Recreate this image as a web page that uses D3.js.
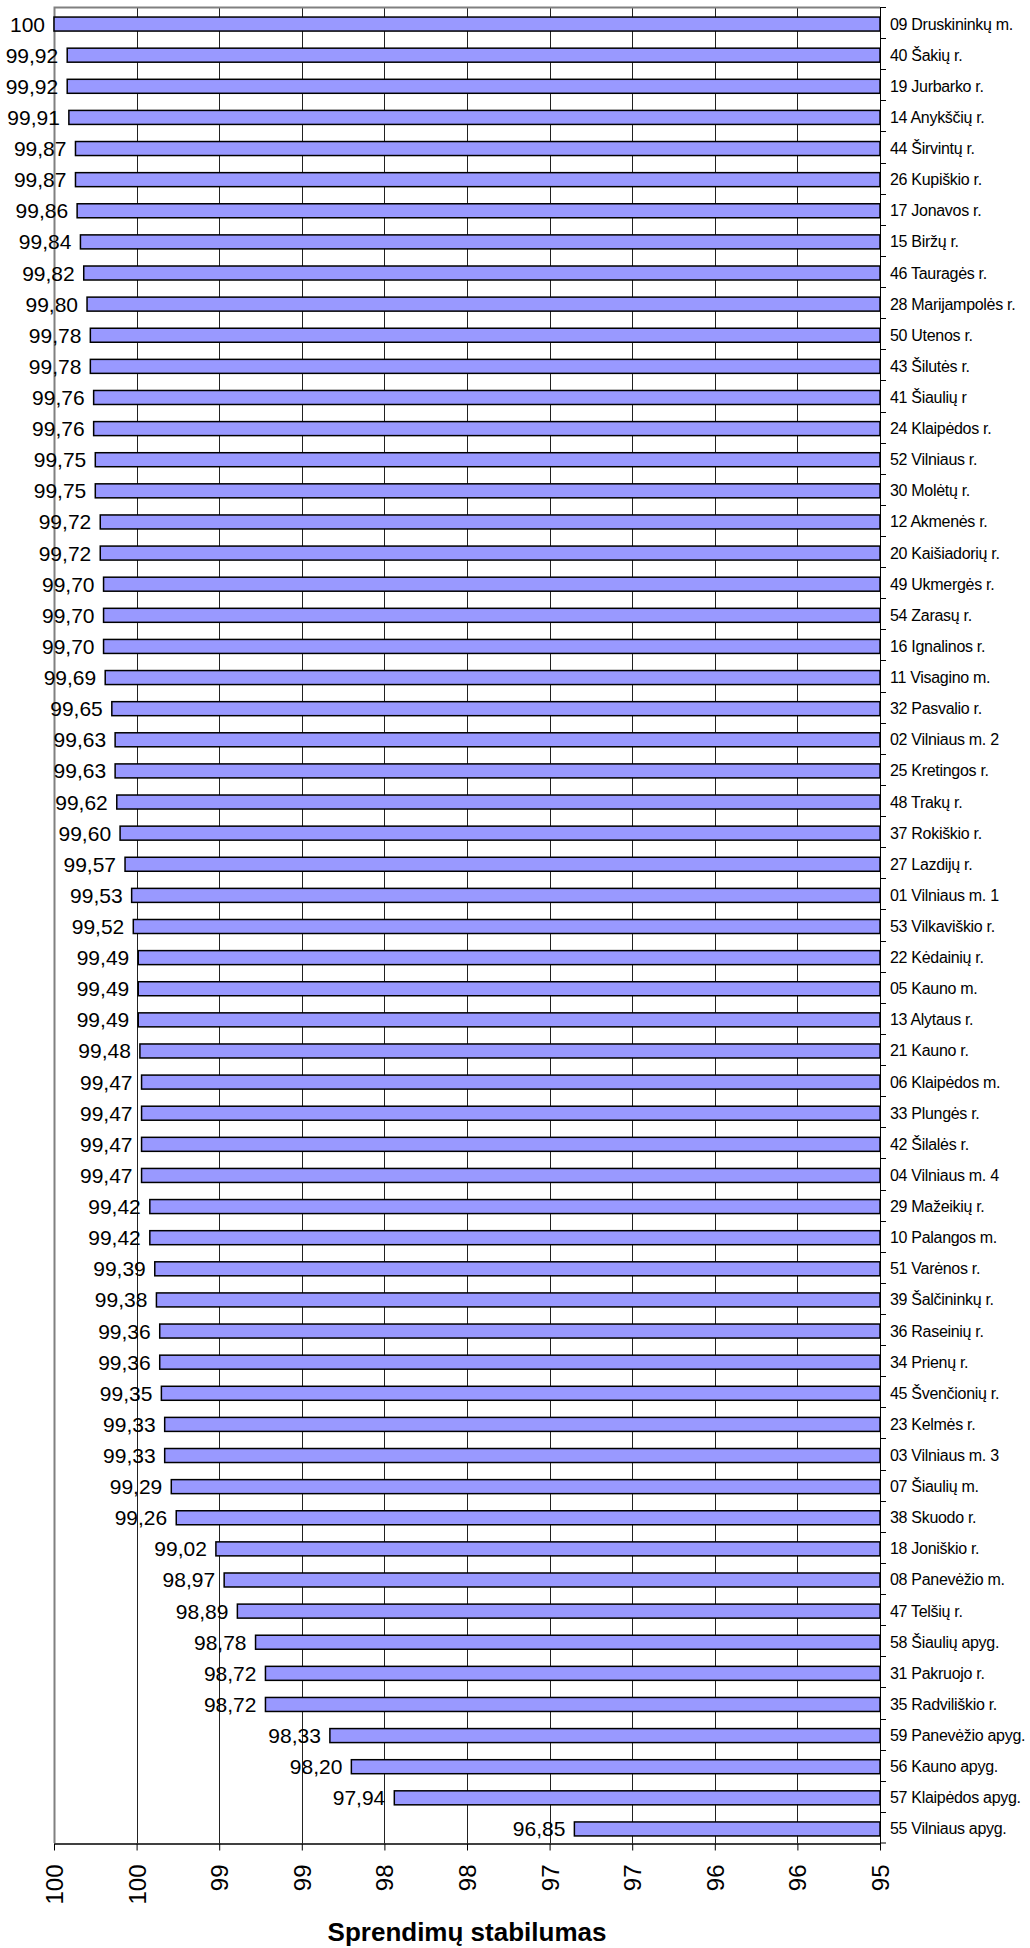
<!DOCTYPE html>
<html>
<head>
<meta charset="utf-8">
<script src="https://cdn.jsdelivr.net/npm/d3@7"></script>
<style>
  body { margin: 0; background: #fff; }
  text { font-family: "Liberation Sans", Arial, sans-serif; }
</style>
</head>
<body>
<div id="chart"></div>
<script>
// Sprendimų stabilumas - horizontal bars, reversed axis

var categories = [
  "09 Druskininkų m.", "40 Šakių r.", "19 Jurbarko r.", "14 Anykščių r.", "44 Širvintų r.",
  "26 Kupiškio r.", "17 Jonavos r.", "15 Biržų r.", "46 Tauragės r.", "28 Marijampolės r.",
  "50 Utenos r.", "43 Šilutės r.", "41 Šiaulių r", "24 Klaipėdos r.", "52 Vilniaus r.",
  "30 Molėtų r.", "12 Akmenės r.", "20 Kaišiadorių r.", "49 Ukmergės r.", "54 Zarasų r.",
  "16 Ignalinos r.", "11 Visagino m.", "32 Pasvalio r.", "02 Vilniaus m. 2", "25 Kretingos r.",
  "48 Trakų r.", "37 Rokiškio r.", "27 Lazdijų r.", "01 Vilniaus m. 1", "53 Vilkaviškio r.",
  "22 Kėdainių r.", "05 Kauno m.", "13 Alytaus r.", "21 Kauno r.", "06 Klaipėdos m.",
  "33 Plungės r.", "42 Šilalės r.", "04 Vilniaus m. 4", "29 Mažeikių r.", "10 Palangos m.",
  "51 Varėnos r.", "39 Šalčininkų r.", "36 Raseinių r.", "34 Prienų r.", "45 Švenčionių r.",
  "23 Kelmės r.", "03 Vilniaus m. 3", "07 Šiaulių m.", "38 Skuodo r.", "18 Joniškio r.",
  "08 Panevėžio m.", "47 Telšių r.", "58 Šiaulių apyg.", "31 Pakruojo r.", "35 Radviliškio r.",
  "59 Panevėžio apyg.", "56 Kauno apyg.", "57 Klaipėdos apyg.", "55 Vilniaus apyg."
]

var values = [
  100, 99.92, 99.92, 99.91, 99.87,
  99.87, 99.86, 99.84, 99.82, 99.80,
  99.78, 99.78, 99.76, 99.76, 99.75,
  99.75, 99.72, 99.72, 99.70, 99.70,
  99.70, 99.69, 99.65, 99.63, 99.63,
  99.62, 99.60, 99.57, 99.53, 99.52,
  99.49, 99.49, 99.49, 99.48, 99.47,
  99.47, 99.47, 99.47, 99.42, 99.42,
  99.39, 99.38, 99.36, 99.36, 99.35,
  99.33, 99.33, 99.29, 99.26, 99.02,
  98.97, 98.89, 98.78, 98.72, 98.72,
  98.33, 98.20, 97.94, 96.85
]

var tickValues = [100, 99.5, 99, 98.5, 98, 97.5, 97, 96.5, 96, 95.5, 95]
var tickLabels = ["100", "100", "99", "99", "98", "98", "97", "97", "96", "96", "95"]

var axisTitle = "Sprendimų stabilumas"

var data = categories.map(function(c, i) { return { name: c, value: values[i] } })

var width = 1030
var height = 1948
var margin = { top: 7, left: 54, right: 150, bottom: 105 }

var svg = d3.select("#chart")
  .append("svg")
    .attr("width", width)
    .attr("height", height)

var x = d3.scaleLinear()
  .domain([100, 95])
  .range([margin.left, width - margin.right])

var y = d3.scaleBand()
  .domain(categories)
  .range([margin.top, height - margin.bottom])

var barH = 14
var x0 = x(95)
var yBottom = height - margin.bottom

// vertical gridlines
svg.append("g")
  .selectAll("line")
  .data(tickValues.filter(function(t) { return t !== 100 && t !== 95 }))
  .enter()
  .append("line")
    .attr("x1", function(d) { return Math.round(x(d)) + 0.5 })
    .attr("x2", function(d) { return Math.round(x(d)) + 0.5 })
    .attr("y1", margin.top)
    .attr("y2", yBottom)
    .attr("stroke", "#222")
    .attr("stroke-width", 1)

// plot border (left + top, grey)
svg.append("path")
  .attr("d", "M" + (x(100) + 0.5) + "," + yBottom + "V" + (margin.top + 0.5) + "H" + x0)
  .attr("fill", "none")
  .attr("stroke", "#808080")
  .attr("stroke-width", 2)

// bars
svg.append("g")
  .selectAll("rect")
  .data(data)
  .enter()
  .append("rect")
    .attr("x", function(d) { return x(d.value) })
    .attr("y", function(d) { return y(d.name) + (y.bandwidth() - barH) / 2 + 1.5 })
    .attr("width", function(d) { return x0 - x(d.value) })
    .attr("height", barH)
    .attr("fill", "#9999ff")
    .attr("stroke", "#000")
    .attr("stroke-width", 1.5)

// value labels
svg.append("g")
  .selectAll("text")
  .data(data)
  .enter()
  .append("text")
    .attr("x", function(d) { return x(d.value) - 9 })
    .attr("y", function(d) { return y(d.name) + y.bandwidth() / 2 + 1.5 })
    .attr("text-anchor", "end")
    .attr("dominant-baseline", "central")
    .style("font-size", "21px")
    .attr("fill", "#000")
    .text(function(d) { return d.value === 100 ? "100" : d.value.toFixed(2).replace(".", ",") })

// right category axis
var ry = svg.append("g")
ry.append("line")
  .attr("x1", x0 + 0.5).attr("x2", x0 + 0.5)
  .attr("y1", margin.top).attr("y2", yBottom + 7)
  .attr("stroke", "#000")
ry.selectAll("line.tick")
  .data(categories.concat(["__end"]))
  .enter()
  .append("line")
    .attr("class", "tick")
    .attr("x1", x0).attr("x2", x0 + 6)
    .attr("y1", function(d) { return d === "__end" ? yBottom : Math.round(y(d)) + 0.5 })
    .attr("y2", function(d) { return d === "__end" ? yBottom : Math.round(y(d)) + 0.5 })
    .attr("stroke", "#000")
ry.selectAll("text")
  .data(categories)
  .enter()
  .append("text")
    .attr("x", x0 + 10)
    .attr("y", function(d) { return y(d) + y.bandwidth() / 2 + 1.5 })
    .attr("dominant-baseline", "central")
    .style("font-size", "16px")
    .style("letter-spacing", "-0.3px")
    .attr("fill", "#000")
    .text(function(d) { return d })

// bottom value axis
var xAxis = svg.append("g")
  .attr("transform", "translate(0," + (yBottom + 0.5) + ")")
  .call(d3.axisBottom(x)
    .tickValues(tickValues)
    .tickFormat(function(d, i) { return tickLabels[i] })
    .tickSize(7)
    .tickSizeOuter(0))
xAxis.select(".domain").attr("stroke", "#000").attr("stroke-width", 1.5)
xAxis.selectAll(".tick line").attr("stroke", "#000")
xAxis.selectAll(".tick text")
  .attr("transform", "rotate(-90)")
  .attr("x", -21)
  .attr("y", 0)
  .attr("dy", "0.35em")
  .attr("text-anchor", "end")
  .style("font-size", "24px")
  .style("font-family", "'Liberation Sans', Arial, sans-serif")
  .attr("fill", "#000")

// axis title
svg.append("text")
  .attr("x", (x(100) + x0) / 2)
  .attr("y", 1941)
  .attr("text-anchor", "middle")
  .style("font-size", "26px")
  .style("font-weight", "bold")
  .attr("fill", "#000")
  .text(axisTitle)
</script>
</body>
</html>
